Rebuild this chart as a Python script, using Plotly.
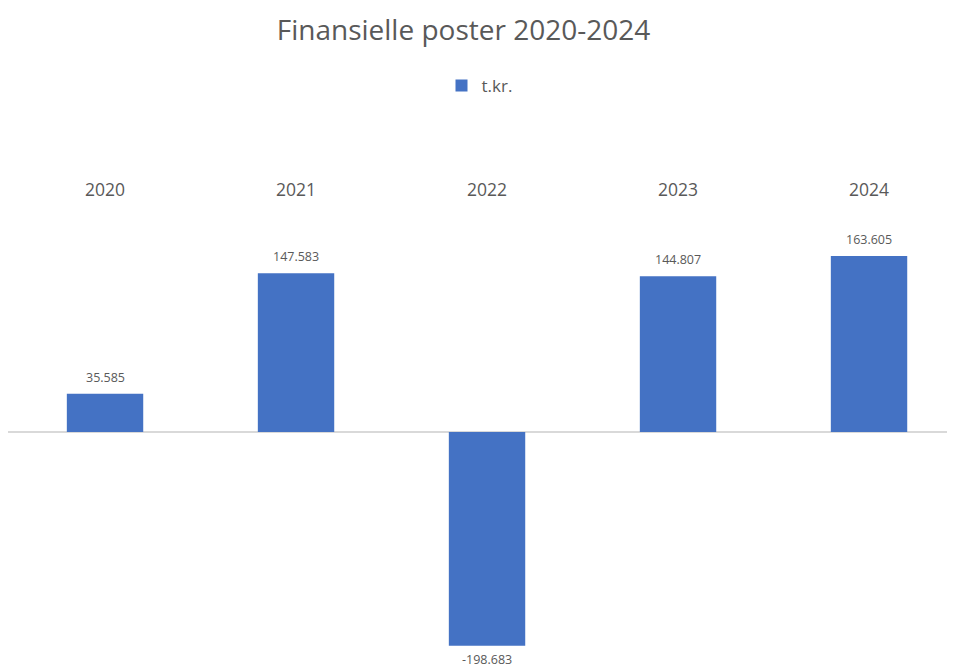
import plotly.graph_objects as go

years = ["2020", "2021", "2022", "2023", "2024"]
values = [35585, 147583, -198683, 144807, 163605]
series_name = "t.kr."
title_text = "Finansielle poster 2020-2024"

W, H = 955, 668
top, bottom = 192, 660
zero_px = 424
px_per_unit = 1.076 / 1000
ymax = (zero_px - top) / px_per_unit
ymin = -(bottom - zero_px) / px_per_unit
GRAY = "#595959"
FONT = "Open Sans"

fig = go.Figure(go.Bar(
    x=years, y=values, name=series_name,
    marker=dict(color="#4472C4", line=dict(width=0)),
    width=0.4,
    showlegend=True,
))

def fmt(v):
    s = f"{abs(v):,}".replace(",", ".")
    return ("-" if v < 0 else "") + s

for i, v in enumerate(values):
    fig.add_annotation(
        x=i, y=v, xref="x", yref="y", text=fmt(v), showarrow=False,
        yanchor="bottom" if v >= 0 else "top",
        yshift=6 if v >= 0 else -3,
        font=dict(size=12.5, color=GRAY, family=FONT),
    )

fig.update_layout(
    width=W, height=H,
    margin=dict(l=0, r=0, t=top, b=H - bottom),
    paper_bgcolor="white", plot_bgcolor="white",
    title=dict(text=title_text, x=455.5 / W, xanchor="center",
               y=1 - 22 / H, yanchor="middle",
               font=dict(size=28, color=GRAY, family=FONT)),
    legend=dict(orientation="h", x=0.5 - 6 / W, xanchor="center", y=1 - 78 / H, yanchor="middle",
                yref="container", font=dict(size=17, color=GRAY, family=FONT),
                itemwidth=30),
    font=dict(family=FONT, color=GRAY),
)
fig.update_xaxes(type="category", side="top", range=[-0.508, 4.492], showgrid=False, showline=False,
                 ticks="", tickfont=dict(size=17.5, color=GRAY, family=FONT))
fig.update_yaxes(range=[ymin, ymax], showgrid=False, showticklabels=False,
                 zeroline=True, zerolinecolor="#D9D9D9", zerolinewidth=1.5)

fig.write_html("out.html")
